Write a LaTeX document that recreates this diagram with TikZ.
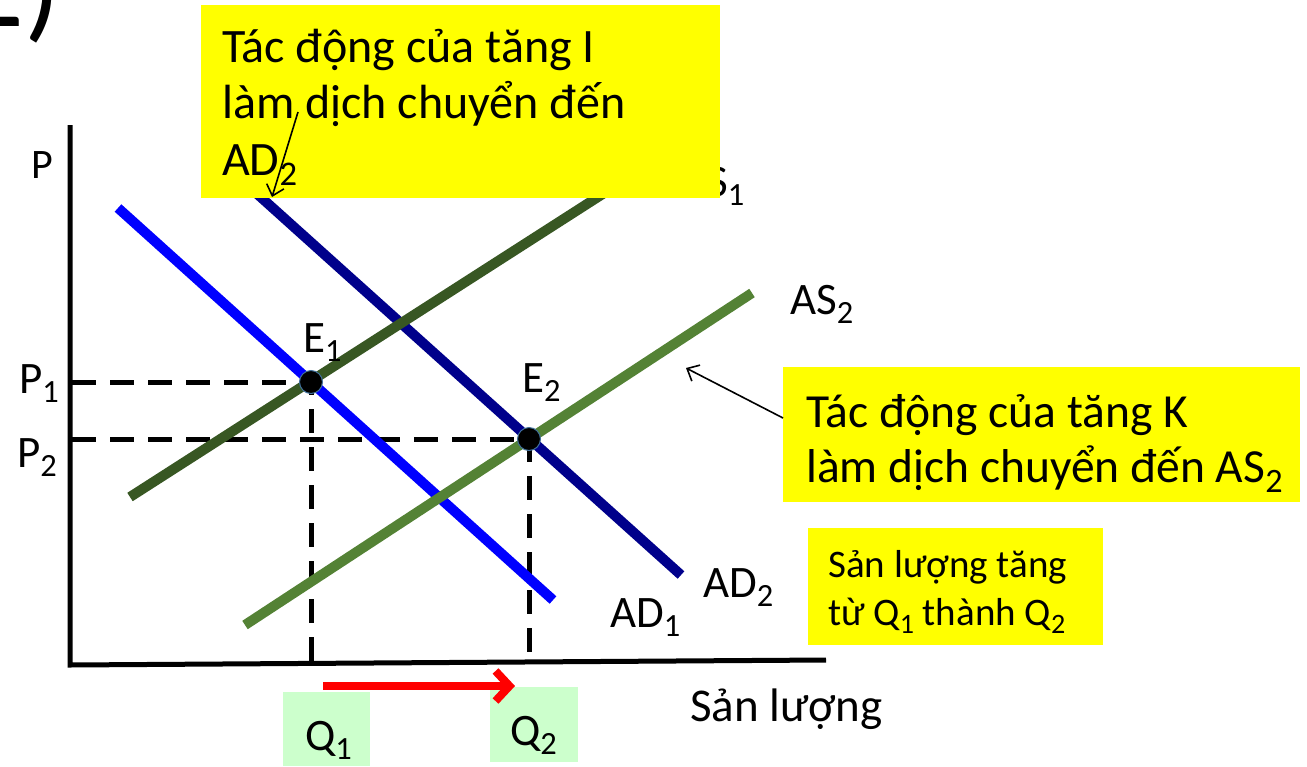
\documentclass[tikz,border=0pt]{standalone}
\usepackage{fontspec}
\setmainfont{Carlito}
\usepackage{graphicx}
\usetikzlibrary{arrows.meta,positioning}
\definecolor{adone}{RGB}{0,0,255}
\definecolor{adtwo}{RGB}{0,0,139}
\definecolor{asone}{RGB}{56,87,35}
\definecolor{astwo}{RGB}{84,130,53}
\definecolor{notey}{RGB}{255,255,0}
\definecolor{qgreen}{RGB}{204,255,204}
\definecolor{dotrim}{RGB}{65,113,156}
\definecolor{shiftred}{RGB}{255,0,0}
\newcommand{\lowsub}[1]{\raisebox{-0.22em}{\scalebox{0.72}{#1}}}

\begin{document}
\begin{tikzpicture}[x=1pt, y=-1pt,
  lbl/.style={anchor=base west, inner sep=0pt, font=\fontsize{45}{54}\selectfont},
  big/.style={anchor=base west, inner sep=0pt, font=\fontsize{48}{56}\selectfont},
  small/.style={anchor=base west, inner sep=0pt, font=\fontsize{39}{46}\selectfont},
  curve/.style={line width=10pt},
  guide/.style={line width=5pt, dash pattern=on 24pt off 14pt},
  note/.style={fill=notey, anchor=north west, inner sep=0pt},
  qbox/.style={fill=qgreen, anchor=north west, inner sep=0pt},
  eqpt/.style={circle, fill=black, draw=dotrim, line width=1pt, minimum size=23pt, inner sep=0pt},
  thinarr/.style={-{Straight Barb[length=10pt,width=18pt]}, line width=1.6pt}
]
\useasboundingbox (0,0) rectangle (1307,766);

% cut-off slide number
\node[anchor=base west, inner sep=0pt, font=\fontsize{120}{130}\selectfont] (part) at (-37,26) {2)};

% axes
\draw[line width=5pt] (70,125) -- (70,665) -- (826,660);
\node[lbl, font=\fontsize{42}{50}\selectfont] (plbl) at (31,178) {P};
\node[lbl, font=\fontsize{47}{54}\selectfont] (xlbl) at (690,721) {Sản lượng};

% equilibria
\coordinate (e1c) at (311,382);
\coordinate (e2c) at (529,439);

% guides
\draw[guide] (72,382) -- (e1c) -- (311,663);
\draw[guide] (72,439) -- (e2c) -- (529,663);

% curves
\draw[curve, adone] (118,208) -- (553,600);
\draw[curve, adtwo] (245,183) -- (681,575);
\draw[curve, asone] (130,497) -- (612,188);
\draw[curve, astwo] (245,625) -- (752,293);

\node[eqpt] (e1) at (e1c) {};
\node[eqpt] (e2) at (e2c) {};

% labels
\node[lbl] (p1) at (19,393) {P\lowsub{1}};
\node[lbl] (p2) at (17,467) {P\lowsub{2}};
\node[lbl] (e1lbl) at (303,352) {E\lowsub{1}};
\node[lbl] (e2lbl) at (522,392) {E\lowsub{2}};
\node[lbl] (as1lbl) at (681,196) {AS\lowsub{1}};
\node[lbl] (as2lbl) at (790,314) {AS\lowsub{2}};
\node[lbl] (ad2lbl) at (703,597) {AD\lowsub{2}};
\node[lbl] (ad1lbl) at (610,627) {AD\lowsub{1}};

% Q boxes
\node[qbox, minimum width=87pt, minimum height=74pt] (q1box) at (283,692) {};
\node[qbox, minimum width=88pt, minimum height=75pt] (q2box) at (490,687) {};
\node[lbl] (q1) at (305,750) {Q\lowsub{1}};
\node[lbl] (q2) at (510,745) {Q\lowsub{2}};
\coordinate (shiftA) at (323,686);
\coordinate (shiftB) at (515,686);
\draw[shiftred, line width=8pt, -{Straight Barb[length=14pt,width=30pt]}] (shiftA) -- (shiftB);

% note on I
\node[note, minimum width=519pt, minimum height=193pt] (noteI) at (201,5) {};
\node[big] (noteIa) at (222,62) {Tác động của tăng I};
\node[big] (noteIb) at (222,118) {làm dịch chuyển đến};
\node[big] (noteIc) at (222,175) {AD\lowsub{2}};
\coordinate (tailI) at (298,112);
\coordinate (headI) at (272,197);
\draw[thinarr] (tailI) -- (headI);

% note on K
\node[note, minimum width=517pt, minimum height=135pt] (noteK) at (783,367) {};
\node[big, font=\fontsize{47.5}{56}\selectfont] (noteKa) at (806,427) {Tác động của tăng K};
\node[big, font=\fontsize{47.5}{56}\selectfont] (noteKb) at (806,482) {làm dịch chuyển đến AS\lowsub{2}};
\coordinate (headK) at (686,368);
\draw[thinarr] (noteK.west |- 0,418) -- (headK);

% note on output
\node[note, minimum width=295pt, minimum height=117pt] (noteQ) at (808,528) {};
\node[small] (noteQa) at (828,577) {Sản lượng tăng};
\node[small] (noteQb) at (828,625) {từ Q\lowsub{1} thành Q\lowsub{2}};
\end{tikzpicture}
\end{document}
